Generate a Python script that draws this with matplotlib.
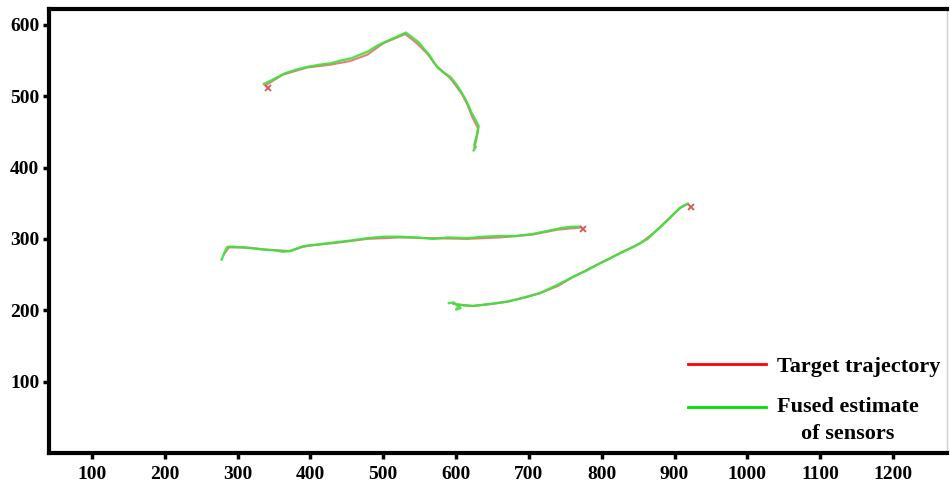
import matplotlib
matplotlib.use("Agg")
import matplotlib.pyplot as plt
from matplotlib.legend_handler import HandlerLine2D

# fonte tipo Times, em negrito
plt.rcParams['font.family'] = ['Liberation Serif', 'DejaVu Serif']
plt.rcParams['font.weight'] = 'bold'

# Trajetoria 1 (alvo e estimativa fundida)
t1_alvo_x = [338, 362, 395, 427, 454, 478, 500, 530, 545, 560, 574, 592, 608, 616, 622, 630, 628, 625]
t1_alvo_y = [515, 530, 540, 544, 549, 558, 574, 587, 575, 560, 541, 525, 503, 487, 471, 455, 440, 428]
t1_fus_x = [336, 350, 365, 380, 396, 412, 428, 442, 456, 468, 480, 492, 505, 518, 531, 540, 549, 556,
            563, 569, 575, 583, 592, 600, 607, 612, 617, 621, 626, 631, 629, 627, 625, 627, 624]
t1_fus_y = [517, 524, 532, 537, 541, 544, 546, 550, 553, 558, 563, 571, 577, 583, 589, 582, 575, 566,
            558, 548, 540, 533, 527, 517, 506, 497, 487, 477, 468, 458, 447, 440, 432, 429, 424]
t1_marca = (342, 511)

# Trajetoria 2
t2_alvo_x = [282, 288, 310, 340, 372, 390, 410, 440, 478, 523, 568, 615, 660, 705, 740, 772]
t2_alvo_y = [280, 288, 288, 285, 283, 289, 292, 295, 300, 302, 301, 300, 302, 306, 313, 316]
t2_fus_x = [278, 280, 283, 286, 295, 307, 320, 335, 350, 362, 372, 380, 388, 398, 410, 425, 441,
            458, 478, 500, 523, 545, 568, 590, 615, 638, 660, 682, 706, 725, 743, 758, 770]
t2_fus_y = [271, 276, 283, 289, 289, 288, 287, 285, 284, 282, 283, 286, 289, 291, 292, 294, 296,
            298, 301, 303, 303, 302, 300, 302, 301, 303, 304, 304, 307, 311, 315, 317, 317]
t2_marca = (774, 314)

# Trajetoria 3
t3_alvo_x = [596, 610, 623, 650, 670, 695, 715, 740, 761, 794, 829, 853, 871, 890, 907, 918]
t3_alvo_y = [209, 207, 206, 209, 212, 218, 224, 234, 247, 264, 282, 294, 308, 326, 343, 349]
t3_fus_x = [590, 597, 603, 600, 606, 603, 612, 623, 640, 655, 670, 690, 715, 738, 761, 778, 794,
            812, 829, 842, 853, 863, 871, 881, 890, 899, 907, 913, 918]
t3_fus_y = [210, 211, 205, 201, 203, 208, 207, 206, 208, 210, 212, 217, 224, 235, 247, 255, 264,
            273, 282, 288, 294, 300, 308, 317, 326, 335, 343, 347, 349]
t3_marca = (923, 345)

x_ticks = [100, 200, 300, 400, 500, 600, 700, 800, 900, 1000, 1100, 1200]
y_ticks = [100, 200, 300, 400, 500, 600]

cor_alvo = '#f26b6b'
cor_fus = '#3be23b'


# linha da legenda alinhada com a primeira linha do texto
class HandlerAlto(HandlerLine2D):
    def __init__(self, desloc, **kw):
        super().__init__(**kw)
        self.desloc = desloc

    def create_artists(self, legend, orig_handle, xdescent, ydescent, width, height, fontsize, trans):
        return super().create_artists(legend, orig_handle, xdescent, ydescent - 2 * self.desloc * fontsize,
                                      width, height, fontsize, trans)


fig = plt.figure(figsize=(9.5, 4.9), dpi=100)
ax = fig.add_axes([0.0516, 0.0755, 0.9452, 0.906])

alvos = [(t1_alvo_x, t1_alvo_y), (t2_alvo_x, t2_alvo_y), (t3_alvo_x, t3_alvo_y)]
fusos = [(t1_fus_x, t1_fus_y), (t2_fus_x, t2_fus_y), (t3_fus_x, t3_fus_y)]
marcas = [t1_marca, t2_marca, t3_marca]

for ax_, ay_ in alvos:
    ax.plot(ax_, ay_, color=cor_alvo, lw=1.5, alpha=0.9)
for fx, fy in fusos:
    ax.plot(fx, fy, color=cor_fus, lw=1.7, alpha=0.9)
for mx, my in marcas:
    ax.plot(mx, my, 'x', color='#d95555', ms=5, mew=1.3)

# legenda
l_alvo, = ax.plot([], [], color='#ff0000', lw=2, label='Target trajectory')
l_fus, = ax.plot([], [], color='#00e000', lw=2, label='Fused estimate\nof sensors')
leg = ax.legend(loc='lower right', bbox_to_anchor=(1.015, -0.025), frameon=False,
                prop={'family': 'Liberation Serif', 'weight': 'bold', 'size': 16},
                handlelength=3.5, handletextpad=0.5, labelspacing=0.9,
                handler_map={l_fus: HandlerAlto(0.6)})
for t in leg.get_texts():
    t.set_multialignment('center')
    t.set_linespacing(1.5)

ax.set_xlim(41, 1274)
ax.set_ylim(0, 622)
ax.set_xticks(x_ticks)
ax.set_yticks(y_ticks)
ax.tick_params(direction='out', length=4, width=2.5, labelsize=14, pad=5)
ax.tick_params(axis='y', pad=3)
for lab in ax.get_xticklabels() + ax.get_yticklabels():
    lab.set_fontweight('bold')

for s in ['left', 'bottom', 'top']:
    ax.spines[s].set_linewidth(3)
    ax.spines[s].set_color('black')
ax.spines['right'].set_linewidth(1)
ax.spines['right'].set_color('#d0d0d8')

plt.savefig('out.png', dpi=100)
